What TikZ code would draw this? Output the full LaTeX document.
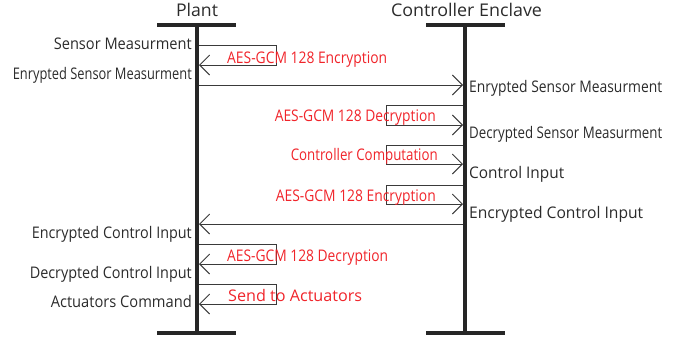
\documentclass[tikz,border=0pt]{standalone}
\usepackage{fontspec}
\usepackage{graphicx}
\setmainfont{Open Sans}
\usetikzlibrary{arrows.meta}
\definecolor{txt}{HTML}{2B2B2B}
\definecolor{lbl}{HTML}{F0242A}
\definecolor{ln}{HTML}{3A3A3A}
\newcommand{\fw}[2]{\resizebox{#1pt}{\height}{#2}}
\begin{document}
\begin{tikzpicture}[x=1pt,y=-1pt,
  lifeline/.style={line width=4pt,draw=black!85},
  msg/.style={draw=ln,line width=0.9pt,-{Straight Barb[length=10pt,width=20pt,line width=0.9pt]}},
  title/.style={font=\fontsize{17.5}{20}\selectfont,text=txt,inner sep=0pt},
  note/.style={font=\fontsize{16}{18}\selectfont,text=txt,inner sep=0pt},
  act/.style={font=\fontsize{16}{18}\selectfont,text=lbl,inner sep=0pt}]
\useasboundingbox (0,0) rectangle (688,341);
% titles
\node[title,anchor=base] (plant) at (197,16) {\fw{42}{Plant}};
\node[title,anchor=base] (ctrl) at (466.5,16) {\fw{151}{Controller Enclave}};
% lifelines
\coordinate (pt) at (197,25); \coordinate (pb) at (197,333);
\coordinate (ct) at (465,25); \coordinate (cb) at (465,333);
\draw[lifeline] (pt) -- (pb);
\draw[lifeline] (ct) -- (cb);
\draw[lifeline] ([xshift=-40pt]pt) -- ([xshift=39pt]pt);
\draw[lifeline] ([xshift=-40pt]pb) -- ([xshift=39pt]pb);
\draw[lifeline] ([xshift=-39pt]ct) -- ([xshift=40pt]ct);
\draw[lifeline] ([xshift=-39pt]cb) -- ([xshift=40pt]cb);
% plant loop 1
\coordinate (a1) at (199,45); \coordinate (a2) at (199,65);
\draw[msg] (a1) -| (276,65) -- (a2);
\node[act,anchor=base west] (l1) at (227,63) {\fw{160}{AES-GCM 128 Encryption}};
\node[note,anchor=base east] (t1) at (192,49) {\fw{138}{Sensor Measurment}};
\node[note,anchor=base east] (t2) at (192,79) {\fw{179}{Enrypted Sensor Measurment}};
% message to controller
\coordinate (b1) at (199,85); \coordinate (b2) at (463,85);
\draw[msg] (b1) -- (b2);
\node[note,anchor=base west] (t3) at (469,92) {\fw{193}{Enrypted Sensor Measurment}};
% controller loop: decryption
\coordinate (c1) at (463,105); \coordinate (c2) at (463,125);
\draw[msg] (c1) -| (386,125) -- (c2);
\node[act,anchor=base east] (l2) at (436,121.5) {\fw{161}{AES-GCM 128 Decryption}};
\node[note,anchor=base west] (t4) at (469,138) {\fw{193}{Decrypted Sensor Measurment}};
% controller computation
\coordinate (d1) at (463,145); \coordinate (d2) at (463,164);
\draw[msg] (d1) -| (386,164) -- (d2);
\node[act,anchor=base east] (l3) at (438,160.5) {\fw{147}{Controller Computation}};
\node[note,anchor=base west] (t5) at (469,178) {\fw{95}{Control Input}};
% controller encryption
\coordinate (e1) at (463,185); \coordinate (e2) at (463,204);
\draw[msg] (e1) -| (386,204) -- (e2);
\node[act,anchor=base east] (l4) at (436,201) {\fw{160}{AES-GCM 128 Encryption}};
\node[note,anchor=base west] (t6) at (469,218) {\fw{174}{Encrypted Control Input}};
% message back to plant
\coordinate (f1) at (463,224); \coordinate (f2) at (199,224);
\draw[msg] (f1) -- (f2);
\node[note,anchor=base east] (t7) at (192,238) {\fw{160}{Encrypted Control Input}};
% plant decryption
\coordinate (g1) at (199,244); \coordinate (g2) at (199,264);
\draw[msg] (g1) -| (276,264) -- (g2);
\node[act,anchor=base west] (l5) at (227,261.5) {\fw{161}{AES-GCM 128 Decryption}};
\node[note,anchor=base east] (t8) at (192,278) {\fw{162}{Decrypted Control Input}};
% send to actuators
\coordinate (h1) at (199,284); \coordinate (h2) at (199,304);
\draw[msg] (h1) -| (276,304) -- (h2);
\node[act,anchor=base west] (l6) at (228,301.5) {\fw{134}{Send to Actuators}};
\node[note,anchor=base east] (t9) at (192,307.5) {\fw{141}{Actuators Command}};
\end{tikzpicture}
\end{document}
